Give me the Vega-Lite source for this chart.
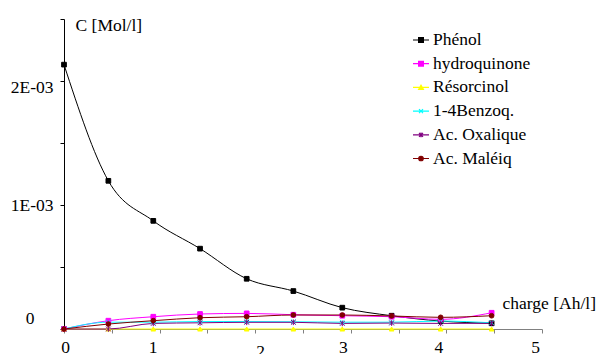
{
  "$schema": "https://vega.github.io/schema/vega-lite/v6.json",
  "width": 478,
  "height": 310,
  "autosize": {"type": "none"},
  "padding": {"left": 64, "top": 19, "right": 58, "bottom": 25},
  "config": {
    "view": {"stroke": null},
    "font": "Liberation Serif",
    "legend": {
      "orient": "none",
      "legendX": 348,
      "legendY": 12,
      "padding": 0,
      "symbolSize": 256,
      "symbolStrokeWidth": 1.2,
      "labelFont": "Liberation Serif",
      "labelFontSize": 17.5,
      "labelColor": "black",
      "labelOffset": 3,
      "labelLimit": 0,
      "rowPadding": 5.7
    }
  },
  "data": {"values": [
    {"charge": 0, "series": "Phénol", "c": 0.002132},
    {"charge": 0.464, "series": "Phénol", "c": 0.001195},
    {"charge": 0.934, "series": "Phénol", "c": 0.000872},
    {"charge": 1.423, "series": "Phénol", "c": 0.000648},
    {"charge": 1.911, "series": "Phénol", "c": 0.000405},
    {"charge": 2.399, "series": "Phénol", "c": 0.000306},
    {"charge": 2.911, "series": "Phénol", "c": 0.000172},
    {"charge": 3.427, "series": "Phénol", "c": 0.000107},
    {"charge": 3.94, "series": "Phénol", "c": 0.000064},
    {"charge": 4.473, "series": "Phénol", "c": 0.000046},
    {"charge": 0, "series": "hydroquinone", "c": 0},
    {"charge": 0.464, "series": "hydroquinone", "c": 0.000067},
    {"charge": 0.934, "series": "hydroquinone", "c": 0.000099},
    {"charge": 1.423, "series": "hydroquinone", "c": 0.000121},
    {"charge": 1.911, "series": "hydroquinone", "c": 0.000126},
    {"charge": 2.399, "series": "hydroquinone", "c": 0.000115},
    {"charge": 2.911, "series": "hydroquinone", "c": 0.000107},
    {"charge": 3.427, "series": "hydroquinone", "c": 0.000099},
    {"charge": 3.94, "series": "hydroquinone", "c": 0.000078},
    {"charge": 4.473, "series": "hydroquinone", "c": 0.000131},
    {"charge": 0, "series": "Résorcinol", "c": 0},
    {"charge": 0.464, "series": "Résorcinol", "c": 0},
    {"charge": 0.934, "series": "Résorcinol", "c": 0},
    {"charge": 1.423, "series": "Résorcinol", "c": 0},
    {"charge": 1.911, "series": "Résorcinol", "c": 0},
    {"charge": 2.399, "series": "Résorcinol", "c": 0},
    {"charge": 2.911, "series": "Résorcinol", "c": 0},
    {"charge": 3.427, "series": "Résorcinol", "c": 0},
    {"charge": 3.94, "series": "Résorcinol", "c": 0},
    {"charge": 4.473, "series": "Résorcinol", "c": 0},
    {"charge": 0, "series": "1-4Benzoq.", "c": 0},
    {"charge": 0.464, "series": "1-4Benzoq.", "c": 0.000055},
    {"charge": 0.934, "series": "1-4Benzoq.", "c": 0.000055},
    {"charge": 1.423, "series": "1-4Benzoq.", "c": 0.00006},
    {"charge": 1.911, "series": "1-4Benzoq.", "c": 0.00006},
    {"charge": 2.399, "series": "1-4Benzoq.", "c": 0.000058},
    {"charge": 2.911, "series": "1-4Benzoq.", "c": 0.000055},
    {"charge": 3.427, "series": "1-4Benzoq.", "c": 0.000055},
    {"charge": 3.94, "series": "1-4Benzoq.", "c": 0.000064},
    {"charge": 4.473, "series": "1-4Benzoq.", "c": 0.00005},
    {"charge": 0, "series": "Ac. Oxalique", "c": 0},
    {"charge": 0.464, "series": "Ac. Oxalique", "c": 0},
    {"charge": 0.934, "series": "Ac. Oxalique", "c": 0.000045},
    {"charge": 1.423, "series": "Ac. Oxalique", "c": 0.00005},
    {"charge": 1.911, "series": "Ac. Oxalique", "c": 0.000054},
    {"charge": 2.399, "series": "Ac. Oxalique", "c": 0.000054},
    {"charge": 2.911, "series": "Ac. Oxalique", "c": 0.000045},
    {"charge": 3.427, "series": "Ac. Oxalique", "c": 0.000048},
    {"charge": 3.94, "series": "Ac. Oxalique", "c": 0.000045},
    {"charge": 4.473, "series": "Ac. Oxalique", "c": 0.000046},
    {"charge": 0, "series": "Ac. Maléiq", "c": 0},
    {"charge": 0.464, "series": "Ac. Maléiq", "c": 0.00004},
    {"charge": 0.934, "series": "Ac. Maléiq", "c": 0.000067},
    {"charge": 1.423, "series": "Ac. Maléiq", "c": 0.000091},
    {"charge": 1.911, "series": "Ac. Maléiq", "c": 0.000099},
    {"charge": 2.399, "series": "Ac. Maléiq", "c": 0.000113},
    {"charge": 2.911, "series": "Ac. Maléiq", "c": 0.000113},
    {"charge": 3.427, "series": "Ac. Maléiq", "c": 0.000105},
    {"charge": 3.94, "series": "Ac. Maléiq", "c": 0.000094},
    {"charge": 4.473, "series": "Ac. Maléiq", "c": 0.000107}
  ]},
  "encoding": {
    "x": {
      "field": "charge", "type": "quantitative",
      "scale": {"domain": [0, 5], "nice": false, "zero": false},
      "axis": {
        "values": [0, 0.5, 1, 1.5, 2, 2.5, 3, 3.5, 4, 4.5, 5],
        "labelExpr": "datum.value % 1 == 0 ? format(datum.value, 'd') : ''",
        "grid": false,
        "domainColor": "#808080",
        "tickColor": "#808080",
        "tickSize": 4,
        "labelFont": "Liberation Serif",
        "labelFontSize": 17.5,
        "labelColor": "black",
        "labelOverlap": false,
        "labelBound": false,
        "labelFlush": false,
        "labelPadding": {"condition": {"test": "datum.value == 2", "value": 9}, "value": 5},
        "labelOffset": {"condition": [
          {"test": "datum.value == 1", "value": -7},
          {"test": "datum.value == 2", "value": 5},
          {"test": "datum.value == 3", "value": -8},
          {"test": "datum.value == 4", "value": -8},
          {"test": "datum.value == 5", "value": -7}
        ], "value": 1},
        "title": "charge [Ah/l]",
        "titleFont": "Liberation Serif",
        "titleFontSize": 17.5,
        "titleFontWeight": "normal",
        "titleColor": "black",
        "titleAlign": "left",
        "titleBaseline": "middle",
        "titleAnchor": "start",
        "titleX": 438,
        "titleY": -26
      }
    },
    "y": {
      "field": "c", "type": "quantitative",
      "scale": {"domain": [0, 0.0025], "nice": false},
      "axis": {
        "values": [0, 0.0005, 0.001, 0.0015, 0.002, 0.0025],
        "labelExpr": "datum.value == 0 ? '0' : datum.value == 0.001 ? '1E-03' : datum.value == 0.002 ? '2E-03' : ''",
        "grid": false,
        "domainColor": "black",
        "tickColor": "black",
        "tickSize": 4,
        "labelFont": "Liberation Serif",
        "labelFontSize": 17.5,
        "labelColor": "black",
        "labelOverlap": false,
        "labelBound": false,
        "labelFlush": false,
        "labelPadding": {"condition": {"test": "datum.value == 0", "value": 26}, "value": 7},
        "labelOffset": {"condition": [
          {"test": "datum.value == 0", "value": -11},
          {"test": "datum.value == 0.002", "value": 6}
        ], "value": 0},
        "title": "C [Mol/l]",
        "titleFont": "Liberation Serif",
        "titleFontSize": 17.5,
        "titleFontWeight": "normal",
        "titleColor": "black",
        "titleAngle": 0,
        "titleAlign": "left",
        "titleBaseline": "middle",
        "titleX": 11,
        "titleY": 6
      }
    },
    "stroke": {
      "field": "series", "type": "nominal", "title": null,
      "scale": {
        "domain": ["Phénol", "hydroquinone", "Résorcinol", "1-4Benzoq.", "Ac. Oxalique", "Ac. Maléiq"],
        "range": ["#000000", "#ff00ff", "#ffff00", "#00ffff", "#800080", "#800000"]
      },
      "legend": {
        "labelFont": "Liberation Serif", "labelFontSize": 17.5, "labelColor": "black",
        "encode": {"labels": {"update": {"font": {"value": "Liberation Serif"}, "fontSize": {"value": 17.5}}}}
      }
    },
    "fill": {
      "field": "series", "type": "nominal", "title": null,
      "scale": {
        "domain": ["Phénol", "hydroquinone", "Résorcinol", "1-4Benzoq.", "Ac. Oxalique", "Ac. Maléiq"],
        "range": ["#000000", "#ff00ff", "#ffff00", "#00ffff", "#800080", "#800000"]
      },
      "legend": {
        "labelFont": "Liberation Serif", "labelFontSize": 17.5, "labelColor": "black",
        "encode": {"labels": {"update": {"font": {"value": "Liberation Serif"}, "fontSize": {"value": 17.5}}}}
      }
    }
  },
  "layer": [
    {
      "mark": {"type": "line", "interpolate": "monotone", "strokeWidth": 1, "fill": null},
      "encoding": {"fill": null}
    },
    {
      "transform": [{"filter": "datum.series == 'Phénol'"}],
      "mark": {"type": "point", "shape": "square", "filled": true, "size": 22, "strokeWidth": 1, "opacity": 1}
    },
    {
      "transform": [{"filter": "datum.series == 'hydroquinone'"}],
      "mark": {"type": "point", "shape": "square", "filled": true, "size": 22, "strokeWidth": 1, "opacity": 1}
    },
    {
      "transform": [{"filter": "datum.series == 'Résorcinol'"}],
      "mark": {"type": "point", "shape": "triangle-up", "filled": true, "size": 22, "strokeWidth": 1, "opacity": 1}
    },
    {
      "transform": [{"filter": "datum.series == '1-4Benzoq.'"}],
      "mark": {"type": "point", "shape": "M-1,-1L1,1M-1,1L1,-1", "filled": true, "size": 22, "strokeWidth": 1, "opacity": 1}
    },
    {
      "transform": [{"filter": "datum.series == 'Ac. Oxalique'"}],
      "mark": {"type": "point", "shape": "M-1,-1L1,1M-1,1L1,-1M0,-1.2V1.2", "filled": true, "size": 22, "strokeWidth": 1, "opacity": 1}
    },
    {
      "transform": [{"filter": "datum.series == 'Ac. Maléiq'"}],
      "mark": {"type": "point", "shape": "circle", "filled": true, "size": 22, "strokeWidth": 1, "opacity": 1}
    },
    {
      "transform": [{"filter": "datum.c < 0"}],
      "mark": {"type": "point", "filled": true, "opacity": 1},
      "encoding": {
        "shape": {
          "field": "series", "type": "nominal", "title": null,
          "scale": {
            "domain": ["Phénol", "hydroquinone", "Résorcinol", "1-4Benzoq.", "Ac. Oxalique", "Ac. Maléiq"],
            "range": [
              "M-1,0H1M-0.3,-0.3H0.3V0.3H-0.3Z",
              "M-1,0H1M-0.3,-0.3H0.3V0.3H-0.3Z",
              "M-1,0H1M-0.3,0.26L0,-0.26L0.3,0.26Z",
              "M-1,0H1M-0.25,-0.25L0.25,0.25M-0.25,0.25L0.25,-0.25",
              "M-1,0H1M-0.25,-0.25L0.25,0.25M-0.25,0.25L0.25,-0.25M0,-0.3V0.3",
              "M-1,0H1M0.28,0A0.28,0.28,0,1,1,-0.28,0A0.28,0.28,0,1,1,0.28,0Z"
            ]
          },
          "legend": {
            "labelFont": "Liberation Serif", "labelFontSize": 17.5, "labelColor": "black",
            "encode": {"labels": {"update": {"font": {"value": "Liberation Serif"}, "fontSize": {"value": 17.5}}}}
          }
        }
      }
    }
  ]
}
